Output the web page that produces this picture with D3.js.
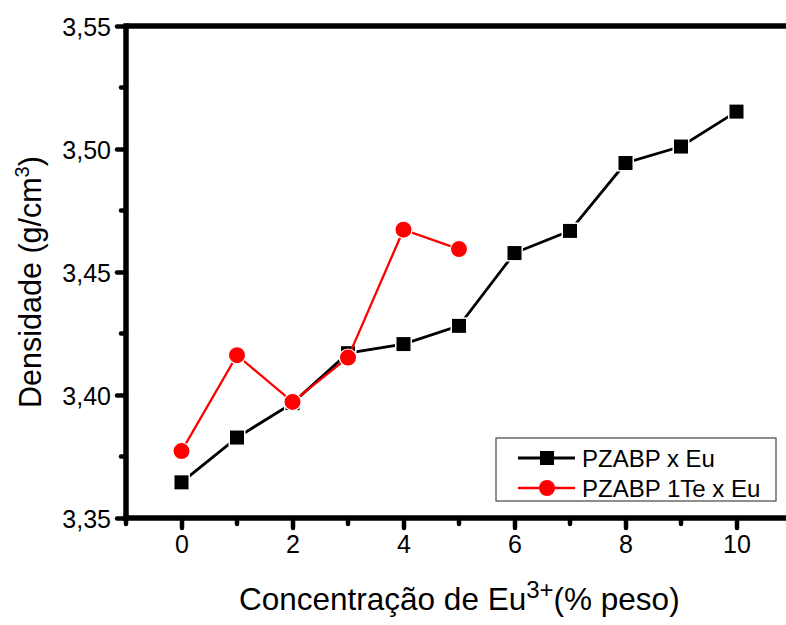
<!DOCTYPE html>
<html lang="pt">
<head>
  <meta charset="UTF-8">
  <script src="https://d3js.org/d3.v7.min.js"></script>
  <title>Densidade</title>
  <style>
    body {
      margin: 0;
      background: #fff;
      font-family: "Liberation Sans", Arial, sans-serif;
    }
    svg text {
      font-family: "Liberation Sans", Arial, sans-serif;
    }
  </style>
</head>
<body>
  <svg id="chart" width="786" height="625"></svg>

  <script>
    // data
    const concentracao = [0, 1, 2, 3, 4, 5, 6, 7, 8, 9, 10];
    const pzabpEu = [3.3645, 3.3827, 3.3967, 3.4170, 3.4207, 3.4281, 3.4577, 3.4667, 3.4943, 3.5010, 3.5152];
    const concentracaoTe = [0, 1, 2, 3, 4, 5];
    const pzabpTeEu = [3.3772, 3.4162, 3.3972, 3.4152, 3.4672, 3.4593];
    const yTicks = [3.35, 3.40, 3.45, 3.50, 3.55];
    const yMinor = [3.375, 3.425, 3.475, 3.525];
    const xTicks = [0, 2, 4, 6, 8, 10];
    const xMinor = [-1, 1, 3, 5, 7, 9];
    const seriesNames = ["PZABP x Eu", "PZABP 1Te x Eu"];

    const width = 786;

    const svg = d3.select("#chart");

    const x = d3.scaleLinear().domain([-1, 11]).range([126, 792]);
    const y = d3.scaleLinear().domain([3.35, 3.55]).range([518, 26]);

    const fmt = d => d3.format(".2f")(d).replace(".", ",");

    // top frame line
    svg.append("line")
      .attr("x1", x(-1)).attr("x2", width + 10)
      .attr("y1", y(3.55)).attr("y2", y(3.55))
      .attr("stroke", "#000").attr("stroke-width", 5.5);

    // y axis
    const yAxis = svg.append("g").attr("transform", `translate(${x(-1)},0)`);
    yAxis.call(d3.axisLeft(y).tickValues(yTicks).tickFormat(fmt).tickSize(9).tickPadding(6));
    yAxis.selectAll(".tick line").style("stroke", "#000").style("stroke-width", "4.5px").style("stroke-linecap", "round");
    yAxis.selectAll(".tick text").style("font-size", "25px").attr("fill", "#000").attr("dy", "0.36em");
    yAxis.select(".domain").remove();
    yAxis.selectAll(".minor").data(yMinor).enter().append("line")
      .attr("class", "minor")
      .attr("x1", 0).attr("x2", -5)
      .attr("y1", d => y(d)).attr("y2", d => y(d))
      .style("stroke", "#000").style("stroke-width", "4.5px").style("stroke-linecap", "round");

    // x axis
    const xAxis = svg.append("g").attr("transform", `translate(0,${y(3.35)})`);
    xAxis.call(d3.axisBottom(x).tickValues(xTicks).tickSize(10).tickPadding(7));
    xAxis.selectAll(".tick line").style("stroke", "#000").style("stroke-width", "4.5px").style("stroke-linecap", "round");
    xAxis.selectAll(".tick text").style("font-size", "25px").attr("fill", "#000");
    xAxis.select(".domain").remove();
    xAxis.selectAll(".minor").data(xMinor).enter().append("line")
      .attr("class", "minor")
      .attr("x1", d => x(d)).attr("x2", d => x(d))
      .attr("y1", 0).attr("y2", 6)
      .style("stroke", "#000").style("stroke-width", "4.5px").style("stroke-linecap", "round");

    // axis lines
    svg.append("line")
      .attr("x1", x(-1)).attr("x2", x(-1))
      .attr("y1", y(3.55) - 2.75).attr("y2", y(3.35) + 2.75)
      .attr("stroke", "#000").attr("stroke-width", 5.5);
    svg.append("line")
      .attr("x1", x(-1) - 2.75).attr("x2", width + 10)
      .attr("y1", y(3.35)).attr("y2", y(3.35))
      .attr("stroke", "#000").attr("stroke-width", 5.5);

    const line = d3.line().x(d => x(d[0])).y(d => y(d[1]));

    const blackData = concentracao.map((c, i) => [c, pzabpEu[i]]);
    const redData = concentracaoTe.map((c, i) => [c, pzabpTeEu[i]]);

    // black series
    svg.append("path")
      .datum(blackData)
      .attr("d", line)
      .attr("fill", "none").attr("stroke", "#000").attr("stroke-width", 2.8);
    svg.selectAll(".sq").data(blackData).enter().append("rect")
      .attr("class", "sq")
      .attr("x", d => x(d[0]) - 7.75).attr("y", d => y(d[1]) - 7.75)
      .attr("width", 15.5).attr("height", 15.5)
      .attr("fill", "#000").attr("stroke", "#fff").attr("stroke-width", 1.5);

    // red series
    svg.append("path")
      .datum(redData)
      .attr("d", line)
      .attr("fill", "none").attr("stroke", "#ff0000").attr("stroke-width", 2.3);
    svg.selectAll(".dot").data(redData).enter().append("circle")
      .attr("class", "dot")
      .attr("cx", d => x(d[0])).attr("cy", d => y(d[1]))
      .attr("r", 8.6)
      .attr("fill", "#ff0000").attr("stroke", "#fff").attr("stroke-width", 1.2);

    // legend
    const legend = svg.append("g");
    legend.append("rect")
      .attr("x", 496).attr("y", 438).attr("width", 280).attr("height", 63)
      .attr("fill", "#fff").attr("stroke", "#444").attr("stroke-width", 1.2);
    const legendRows = [
      { name: seriesNames[0], color: "#000", shape: "square", cy: 458 },
      { name: seriesNames[1], color: "#ff0000", shape: "circle", cy: 488 }
    ];
    legendRows.forEach(r => {
      legend.append("line")
        .attr("x1", 518).attr("x2", 575).attr("y1", r.cy).attr("y2", r.cy)
        .attr("stroke", r.color).attr("stroke-width", r.shape === "square" ? 2.8 : 2.3);
      if (r.shape === "square") {
        legend.append("rect")
          .attr("x", 547 - 7).attr("y", r.cy - 7).attr("width", 14).attr("height", 14)
          .attr("fill", r.color);
      } else {
        legend.append("circle")
          .attr("cx", 547).attr("cy", r.cy).attr("r", 8).attr("fill", r.color);
      }
      legend.append("text")
        .attr("x", 582).attr("y", r.cy + 8.5)
        .attr("font-size", 24).attr("fill", "#000")
        .text(r.name);
    });

    // axis titles
    const xTitle = svg.append("text")
      .attr("x", 239).attr("y", 610)
      .attr("font-size", 31.5).attr("fill", "#000");
    xTitle.append("tspan").text("Concentração de Eu");
    xTitle.append("tspan").attr("font-size", 24).attr("dy", -12).text("3+");
    xTitle.append("tspan").attr("dy", 12).text("(% peso)");

    const yTitle = svg.append("text")
      .attr("transform", "translate(41,282) rotate(-90)")
      .attr("text-anchor", "middle")
      .attr("font-size", 30.5).attr("fill", "#000");
    yTitle.append("tspan").text("Densidade (g/cm");
    yTitle.append("tspan").attr("font-size", 20).attr("dy", -12).text("3");
    yTitle.append("tspan").attr("dy", 12).text(")");
  </script>
</body>
</html>
